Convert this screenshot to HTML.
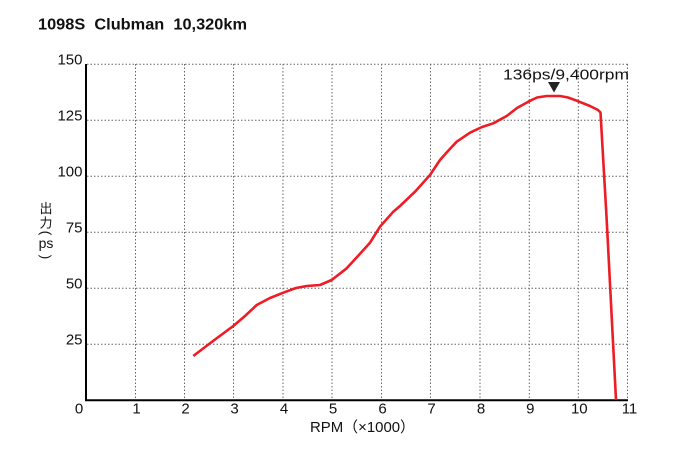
<!DOCTYPE html>
<html>
<head>
<meta charset="utf-8">
<style>
html,body{margin:0;padding:0;background:#fff;}
svg{display:block;}
text{font-family:"Liberation Sans","Noto Sans CJK JP",sans-serif;fill:#111;}
</style>
</head>
<body>
<svg width="680" height="451" viewBox="0 0 680 451" xmlns="http://www.w3.org/2000/svg">
<rect width="680" height="451" fill="#fff"/>
<text x="38" y="29.5" font-size="15.5" font-weight="bold" textLength="209" lengthAdjust="spacingAndGlyphs" xml:space="preserve">1098S  Clubman  10,320km</text>

<g stroke="#666" stroke-width="1" stroke-dasharray="1.5,2" fill="none">
<line x1="87" y1="64.3" x2="628" y2="64.3"/>
<line x1="87" y1="120.3" x2="628" y2="120.3"/>
<line x1="87" y1="176.3" x2="628" y2="176.3"/>
<line x1="87" y1="232.3" x2="628" y2="232.3"/>
<line x1="87" y1="288.3" x2="628" y2="288.3"/>
<line x1="87" y1="344.3" x2="628" y2="344.3"/>
<line x1="135.5" y1="64" x2="135.5" y2="400"/>
<line x1="184.5" y1="64" x2="184.5" y2="400"/>
<line x1="233.5" y1="64" x2="233.5" y2="400"/>
<line x1="283" y1="64" x2="283" y2="400"/>
<line x1="332" y1="64" x2="332" y2="400"/>
<line x1="381.5" y1="64" x2="381.5" y2="400"/>
<line x1="430.5" y1="64" x2="430.5" y2="400"/>
<line x1="480" y1="64" x2="480" y2="400"/>
<line x1="529.3" y1="64" x2="529.3" y2="400"/>
<line x1="578.3" y1="64" x2="578.3" y2="400"/>
<line x1="627.5" y1="64" x2="627.5" y2="400"/>
</g>

<g stroke="#000" stroke-width="2" fill="none">
<line x1="86" y1="64" x2="86" y2="401"/>
<line x1="85" y1="400.3" x2="628" y2="400.3"/>
</g>

<g font-size="15" text-anchor="end">
<text x="82.5" y="64.5">150</text>
<text x="82.5" y="120.5">125</text>
<text x="82.5" y="176.5">100</text>
<text x="82.5" y="232.5">75</text>
<text x="82.5" y="288.5">50</text>
<text x="82.5" y="344.5">25</text>
</g>
<g font-size="15" text-anchor="middle">
<text x="79" y="413.5">0</text>
<text x="136.5" y="413.5">1</text>
<text x="185.5" y="413.5">2</text>
<text x="234.5" y="413.5">3</text>
<text x="284" y="413.5">4</text>
<text x="333" y="413.5">5</text>
<text x="382.5" y="413.5">6</text>
<text x="431.5" y="413.5">7</text>
<text x="481" y="413.5">8</text>
<text x="530.3" y="413.5">9</text>
<text x="579.3" y="413.5">10</text>
<text x="629.5" y="413.5">11</text>
</g>
<text x="310" y="432" font-size="15" textLength="105" lengthAdjust="spacingAndGlyphs">RPM（×1000）</text>

<g font-size="13" text-anchor="middle">
<text x="46" y="213">出</text>
<text x="46" y="227.5">力</text>
<text x="0" y="0" font-size="14" transform="translate(46,233) rotate(90)" dy="4.5">(</text>
<text x="46" y="248" font-size="14">ps</text>
<text x="0" y="0" font-size="14" transform="translate(46,257) rotate(90)" dy="4.5">)</text>
</g>

<text x="503" y="79.5" font-size="15" textLength="126" lengthAdjust="spacingAndGlyphs">136ps/9,400rpm</text>
<polygon points="548,82 560,82 554,92.5" fill="#222"/>

<path d="M193.3,356 L213,341 L233.3,326 L245,316 L256.7,305 L270,298 L283.3,292.7 L296,288 L306.7,286 L320,285 L331.7,280 L346.7,268.3 L358,256 L370,242.7 L380,226.7 L393.3,211.7 L400,206 L415,191.7 L430,175 L440,160 L448,151 L456.7,141.7 L470,132.7 L482,127 L493.3,123.3 L506.7,116 L517,108 L528.3,101.7 L537,97.5 L546.7,96 L560,96 L568,97.5 L576.7,100.7 L590,106 L598,110 L600.5,112.5 L606.7,220 L616,400"
 fill="none" stroke="#ee1c24" stroke-width="2.6" stroke-linejoin="round" stroke-linecap="butt"/>
</svg>
</body>
</html>
